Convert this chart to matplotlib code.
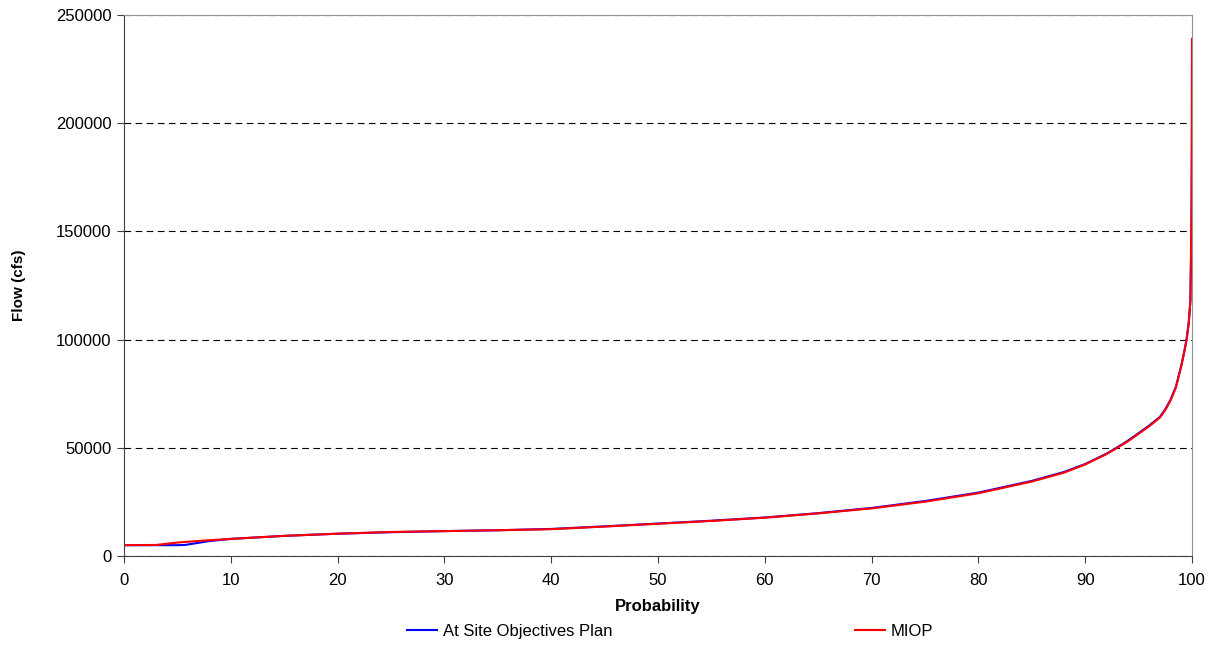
import matplotlib.pyplot as plt

plt.rcParams['font.family'] = ['Liberation Sans', 'DejaVu Sans']

# probability (%) and flow (cfs)
prob = [0, 3, 5, 5.7, 8, 10, 15, 20, 25, 30, 35, 40, 45, 50, 55, 60, 65, 70, 75, 80,
        85, 88, 90, 92, 93, 94, 95, 96, 97, 97.5, 98, 98.5, 99, 99.3, 99.5, 99.7, 99.85,
        99.95, 100]

at_site = [5000, 5000, 5000, 5100, 6900, 7900, 9300, 10300, 11000, 11500, 11900, 12500,
           13700, 15000, 16300, 17800, 19800, 22200, 25400, 29300, 34700, 38800, 42500,
           47300, 50200, 53300, 56800, 60300, 64300, 67800, 72300, 78300, 88000, 95000,
           100500, 108000, 118000, 150000, 190000]

miop = [5000, 5100, 6200, 6500, 7300, 7900, 9300, 10300, 11100, 11500, 11900, 12400,
        13600, 14900, 16200, 17700, 19700, 22000, 25100, 29000, 34400, 38500, 42300,
        47100, 50000, 53000, 56500, 60000, 64000, 67500, 72000, 78000, 88000, 95000,
        100000, 108000, 118000, 160000, 239000]

fig = plt.figure(figsize=(12.21, 6.45), dpi=100)
ax = fig.add_axes([124 / 1221, 1 - 556 / 645, 1068 / 1221, 541 / 645])

ax.plot(prob, at_site, color='#0000ff', lw=1.5, label='At Site Objectives Plan')
ax.plot(prob, miop, color='#ff0000', lw=1.5, label='MIOP')

ax.set_xlim(0, 100)
ax.set_ylim(0, 250000)
ax.set_xticks(range(0, 101, 10))
ax.set_yticks(range(0, 250001, 50000))
ax.yaxis.grid(True, color='black', linestyle=(0, (6, 4)), linewidth=0.8)
ax.set_axisbelow(True)

for s in ['left', 'bottom']:
    ax.spines[s].set_color('#404040')
for s in ['top', 'right']:
    ax.spines[s].set_color('#909090')
ax.tick_params(direction='out', length=5, color='#404040', labelsize=12)
ax.tick_params(axis='x', pad=7)
ax.tick_params(axis='y', pad=4)

ax.set_xlabel('Probability', fontsize=12, fontweight='bold', va='top')
ax.xaxis.set_label_coords(0.5, -0.079)
ax.set_ylabel('Flow (cfs)', fontsize=11, fontweight='bold', va='center')
ax.yaxis.set_label_coords(-0.098, 0.5)

ax.legend(loc='upper left', bbox_to_anchor=(407 / 1221, 1 - 624 / 645),
          bbox_transform=fig.transFigure, ncol=2, frameon=False, fontsize=12,
          borderaxespad=0, borderpad=0, columnspacing=14.5, handlelength=1.8,
          handletextpad=0.38)

fig.savefig('out.png', dpi=100)
